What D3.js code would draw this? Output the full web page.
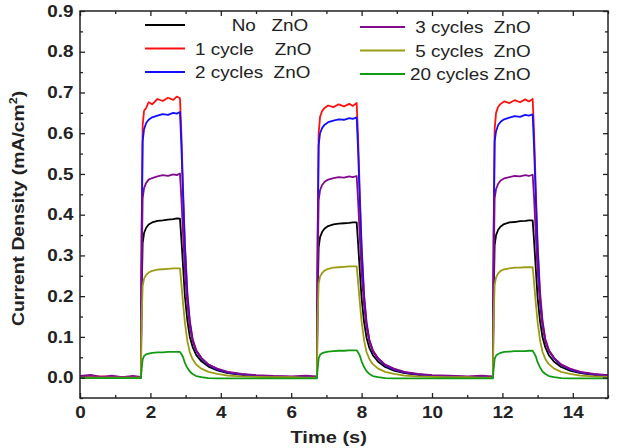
<!DOCTYPE html>
<html>
<head>
<meta charset="utf-8">
<script src="https://cdn.jsdelivr.net/npm/d3@7"></script>
<style>
  html, body { margin: 0; background: #fff; }
  svg { display: block; font-family: "Liberation Sans", Arial, sans-serif; }
  .axis text { font-size: 16px; font-weight: bold; fill: #222; }
  .axis line { stroke: #222; stroke-width: 1.3; }
  .axis path { display: none; }
  .frame { fill: none; stroke: #222; stroke-width: 1.5; }
  .trace { fill: none; stroke-width: 1.8; stroke-linejoin: round; }
  .leg-text { font-size: 16px; fill: #222; white-space: pre; }
  .axis-title { font-size: 17px; font-weight: bold; fill: #222; }
</style>
</head>
<body>
<div id="chart"></div>
<script>
// Chopped-light photocurrent, three on/off cycles.
const timeS = [
  0, 0.3, 0.6, 0.9, 1.2, 1.5, 1.73,
  1.75, 1.78, 1.82, 1.88, 1.95, 2.05, 2.2, 2.35, 2.5, 2.65, 2.75, 2.84,
  2.88, 2.93, 2.98, 3.05, 3.12, 3.2, 3.3, 3.45, 3.65, 3.9, 4.2, 4.6, 5.0, 5.5, 6.0, 6.4, 6.73,
  6.75, 6.78, 6.82, 6.88, 6.95, 7.05, 7.2, 7.35, 7.5, 7.65, 7.75, 7.86,
  7.9, 7.95, 8.0, 8.07, 8.14, 8.22, 8.32, 8.47, 8.67, 8.92, 9.22, 9.6, 10.0, 10.5, 11.0, 11.4, 11.73,
  11.75, 11.78, 11.82, 11.88, 11.95, 12.05, 12.2, 12.35, 12.5, 12.65, 12.75, 12.86,
  12.9, 12.95, 13.0, 13.07, 13.14, 13.22, 13.32, 13.47, 13.67, 13.92, 14.22, 14.6, 15.0
];

const noZnO = [
  0.001, 0.0, 0.002, 0.0, 0.001, 0.0, 0.0,
  0.2, 0.33, 0.355, 0.368, 0.376, 0.381, 0.385, 0.386, 0.388, 0.389, 0.391, 0.39,
  0.34, 0.27, 0.2, 0.14, 0.1, 0.075, 0.056, 0.04, 0.027, 0.018, 0.011, 0.007, 0.004, 0.002, 0.001, 0.001, 0.0,
  0.19, 0.32, 0.345, 0.358, 0.366, 0.372, 0.376, 0.378, 0.379, 0.38, 0.381, 0.381,
  0.33, 0.26, 0.195, 0.137, 0.098, 0.073, 0.055, 0.039, 0.026, 0.017, 0.011, 0.007, 0.004, 0.002, 0.001, 0.001, 0.0,
  0.19, 0.325, 0.35, 0.363, 0.371, 0.377, 0.381, 0.382, 0.384, 0.385, 0.386, 0.386,
  0.335, 0.265, 0.197, 0.138, 0.099, 0.074, 0.055, 0.039, 0.026, 0.017, 0.011, 0.007, 0.004
];

const cycles1 = [
  0.002, 0.001, 0.003, 0.001, 0.002, 0.001, 0.002,
  0.35, 0.62, 0.655, 0.662, 0.676, 0.671, 0.684, 0.679, 0.687, 0.682, 0.69, 0.686,
  0.6, 0.46, 0.33, 0.21, 0.14, 0.095, 0.068, 0.048, 0.032, 0.021, 0.013, 0.008, 0.005, 0.003, 0.002, 0.002, 0.002,
  0.34, 0.6, 0.64, 0.655, 0.662, 0.668, 0.664, 0.671, 0.666, 0.672, 0.667, 0.674,
  0.59, 0.45, 0.325, 0.205, 0.137, 0.093, 0.067, 0.047, 0.031, 0.02, 0.013, 0.008, 0.005, 0.003, 0.002, 0.002, 0.002,
  0.35, 0.61, 0.65, 0.665, 0.672, 0.678, 0.674, 0.681, 0.676, 0.683, 0.678, 0.684,
  0.6, 0.46, 0.33, 0.21, 0.14, 0.095, 0.068, 0.048, 0.032, 0.021, 0.013, 0.008, 0.005
];

const cycles2 = [
  0.001, 0.0, 0.001, 0.0, 0.001, 0.0, 0.0,
  0.33, 0.58, 0.61, 0.625, 0.633, 0.639, 0.643, 0.647, 0.645, 0.65, 0.648, 0.652,
  0.57, 0.44, 0.32, 0.2, 0.135, 0.092, 0.066, 0.047, 0.031, 0.02, 0.013, 0.008, 0.005, 0.003, 0.002, 0.002, 0.001,
  0.32, 0.57, 0.6, 0.613, 0.621, 0.627, 0.631, 0.634, 0.633, 0.637, 0.635, 0.639,
  0.56, 0.43, 0.315, 0.197, 0.133, 0.091, 0.065, 0.046, 0.03, 0.02, 0.013, 0.008, 0.005, 0.003, 0.002, 0.002, 0.001,
  0.33, 0.58, 0.605, 0.62, 0.628, 0.634, 0.638, 0.642, 0.64, 0.645, 0.643, 0.646,
  0.565, 0.435, 0.317, 0.198, 0.134, 0.091, 0.066, 0.047, 0.031, 0.02, 0.013, 0.008, 0.005
];

const cycles3 = [
  0.004, 0.007, 0.002, 0.005, 0.001, 0.004, 0.002,
  0.26, 0.44, 0.465, 0.478, 0.486, 0.49, 0.494, 0.497, 0.495, 0.499, 0.497, 0.501,
  0.44, 0.35, 0.26, 0.18, 0.125, 0.09, 0.066, 0.048, 0.032, 0.022, 0.014, 0.009, 0.006, 0.004, 0.003, 0.005, 0.003,
  0.255, 0.435, 0.46, 0.473, 0.481, 0.486, 0.49, 0.492, 0.491, 0.494, 0.492, 0.495,
  0.435, 0.345, 0.257, 0.178, 0.124, 0.089, 0.065, 0.047, 0.032, 0.022, 0.014, 0.009, 0.006, 0.005, 0.003, 0.005, 0.003,
  0.26, 0.44, 0.463, 0.476, 0.484, 0.489, 0.492, 0.495, 0.494, 0.497, 0.495, 0.498,
  0.44, 0.348, 0.259, 0.179, 0.125, 0.09, 0.066, 0.048, 0.032, 0.022, 0.014, 0.009, 0.006
];

const cycles5 = [
  0.0, 0.0, 0.0, 0.0, 0.0, 0.0, 0.0,
  0.14, 0.225, 0.243, 0.252, 0.258, 0.262, 0.265, 0.266, 0.267, 0.268, 0.268, 0.268,
  0.23, 0.18, 0.135, 0.09, 0.062, 0.045, 0.032, 0.022, 0.014, 0.009, 0.005, 0.003, 0.002, 0.001, 0.001, 0.0, 0.0,
  0.145, 0.23, 0.248, 0.257, 0.263, 0.267, 0.27, 0.271, 0.272, 0.273, 0.273, 0.273,
  0.235, 0.184, 0.138, 0.092, 0.063, 0.046, 0.033, 0.022, 0.014, 0.009, 0.005, 0.003, 0.002, 0.001, 0.001, 0.0, 0.0,
  0.145, 0.228, 0.246, 0.256, 0.262, 0.266, 0.268, 0.27, 0.27, 0.271, 0.271, 0.271,
  0.233, 0.182, 0.137, 0.091, 0.063, 0.046, 0.033, 0.022, 0.014, 0.009, 0.005, 0.003, 0.002
];

const cycles20 = [
  -0.001, -0.001, -0.001, -0.001, -0.001, -0.001, -0.001,
  0.02, 0.045, 0.053, 0.057, 0.059, 0.061, 0.062, 0.062, 0.063, 0.063, 0.063, 0.063,
  0.058, 0.05, 0.036, 0.024, 0.015, 0.009, 0.004, 0.001, -0.001, -0.002, -0.002, -0.002, -0.002, -0.002, -0.002, -0.002, -0.002,
  0.02, 0.047, 0.056, 0.06, 0.062, 0.064, 0.065, 0.066, 0.066, 0.067, 0.067, 0.067,
  0.062, 0.054, 0.04, 0.026, 0.016, 0.009, 0.004, 0.001, -0.001, -0.002, -0.002, -0.002, -0.002, -0.002, -0.002, -0.002, -0.002,
  0.02, 0.046, 0.054, 0.058, 0.061, 0.063, 0.064, 0.065, 0.065, 0.065, 0.066, 0.066,
  0.06, 0.052, 0.038, 0.025, 0.015, 0.009, 0.004, 0.001, -0.001, -0.002, -0.002, -0.002, -0.002
];

const seriesValues = [noZnO, cycles1, cycles2, cycles3, cycles5, cycles20];
const legendLabels = [
  "       No   ZnO", "1 cycle    ZnO", "2 cycles  ZnO",
  " 3 cycles  ZnO", " 5 cycles  ZnO", "20 cycles ZnO"
];
const xTicks = [0, 2, 4, 6, 8, 10, 12, 14];
const xMinorTicks = [1, 3, 5, 7, 9, 11, 13, 15];
const yTicks = [0.0, 0.1, 0.2, 0.3, 0.4, 0.5, 0.6, 0.7, 0.8, 0.9];
const yMinorTicks = [-0.05, 0.05, 0.15, 0.25, 0.35, 0.45, 0.55, 0.65, 0.75, 0.85];

// styling
const colors = ["#000000", "#ff1010", "#1010ff", "#820a8c", "#9c9c14", "#139a13"];
const textStretch = 1.18; // the figure's sans is wider than Arial

const width = 617, height = 448;
const m = { top: 11, right: 9, bottom: 50, left: 80 };
const iW = width - m.left - m.right, iH = height - m.top - m.bottom;

const x = d3.scaleLinear([0, 15], [0, iW]);
const y = d3.scaleLinear([-0.05, 0.9], [iH, 0]);

const svg = d3.select("#chart").append("svg")
  .attr("width", width).attr("height", height);
const g = svg.append("g").attr("transform", `translate(${m.left},${m.top})`);

svg.append("defs").append("clipPath").attr("id", "plot-clip")
  .append("rect").attr("width", iW).attr("height", iH);

// traces, legend order; later ones sit on top
const line = d3.line().x((d) => x(d[0])).y((d) => y(d[1]));
const traces = g.append("g").attr("clip-path", "url(#plot-clip)");
seriesValues.forEach((vals, i) => {
  traces.append("path").datum(timeS.map((t, k) => [t, vals[k]]))
    .attr("class", "trace").attr("stroke", colors[i]).attr("d", line);
});

// inward ticks on all four sides, majors and minors
const major = 5, minor = 3;
g.append("g").attr("class", "axis").attr("transform", `translate(0,${iH})`)
  .call(d3.axisBottom(x).tickValues(xTicks).tickSize(-major).tickPadding(9).tickFormat(d3.format("d")));
g.append("g").attr("class", "axis").attr("transform", `translate(0,${iH})`)
  .call(d3.axisBottom(x).tickValues(xMinorTicks).tickSize(-minor).tickFormat(""));
g.append("g").attr("class", "axis")
  .call(d3.axisTop(x).tickValues(xTicks).tickSize(-major).tickFormat(""));
g.append("g").attr("class", "axis")
  .call(d3.axisTop(x).tickValues(xMinorTicks).tickSize(-minor).tickFormat(""));
g.append("g").attr("class", "axis")
  .call(d3.axisLeft(y).tickValues(yTicks).tickSize(-major).tickPadding(5.5).tickFormat(d3.format(".1f")));
g.append("g").attr("class", "axis")
  .call(d3.axisLeft(y).tickValues(yMinorTicks).tickSize(-minor).tickFormat(""));
g.append("g").attr("class", "axis").attr("transform", `translate(${iW},0)`)
  .call(d3.axisRight(y).tickValues(yTicks).tickSize(-major).tickFormat(""));
g.append("g").attr("class", "axis").attr("transform", `translate(${iW},0)`)
  .call(d3.axisRight(y).tickValues(yMinorTicks).tickSize(-minor).tickFormat(""));
g.selectAll(".axis text").attr("transform", `scale(${textStretch},1)`);

g.append("rect").attr("class", "frame").attr("width", iW).attr("height", iH);

// axis titles
svg.append("text").attr("class", "axis-title").attr("text-anchor", "middle")
  .attr("transform", `translate(${m.left + iW * 0.471},${height - 5}) scale(${textStretch},1)`)
  .text("Time (s)");
const yt = svg.append("text").attr("class", "axis-title").attr("text-anchor", "middle")
  .attr("transform", `translate(24,${m.top + iH * 0.51}) rotate(-90) scale(1.14,1)`);
yt.append("tspan").text("Current Density (mA/cm");
yt.append("tspan").attr("font-size", 11).attr("dy", -7).text("2");
yt.append("tspan").attr("dy", 7).text(")");

// legend: two columns of three
const legCols = [
  { x1: 145, x2: 185, tx: 195, y0: 25 },
  { x1: 360, x2: 405, tx: 410, y0: 27 }
];
const rowGap = 23.5;
legendLabels.forEach((label, i) => {
  const c = legCols[Math.floor(i / 3)], ry = c.y0 + (i % 3) * rowGap;
  svg.append("line").attr("x1", c.x1).attr("x2", c.x2).attr("y1", ry).attr("y2", ry)
    .attr("stroke", colors[i]).attr("stroke-width", 2);
  svg.append("text").attr("class", "leg-text").attr("xml:space", "preserve")
    .attr("transform", `translate(${c.tx},${ry + 6}) scale(${textStretch},1)`)
    .text(label);
});
</script>
</body>
</html>
